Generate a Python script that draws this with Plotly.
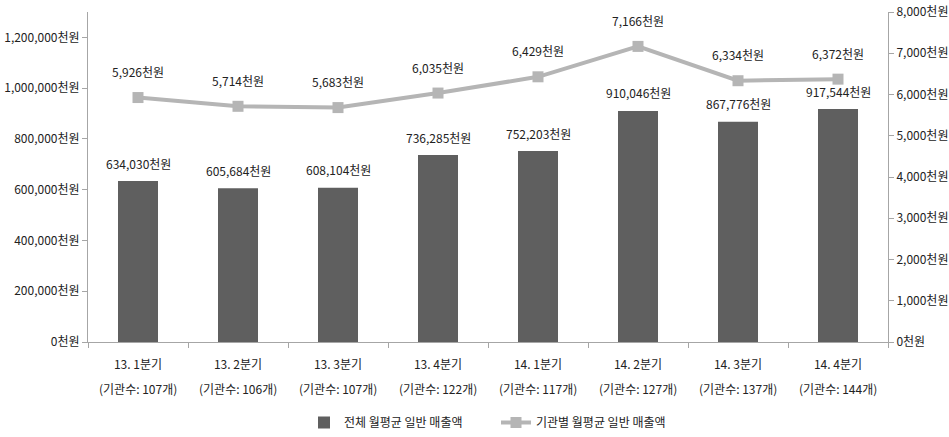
import plotly.graph_objects as go

quarters = ["13. 1분기", "13. 2분기", "13. 3분기", "13. 4분기",
            "14. 1분기", "14. 2분기", "14. 3분기", "14. 4분기"]
agency_counts = [107, 106, 107, 122, 117, 127, 137, 144]
total_sales = [634030, 605684, 608104, 736285, 752203, 910046, 867776, 917544]
per_agency_sales = [5926, 5714, 5683, 6035, 6429, 7166, 6334, 6372]

left_ticks = [0, 200000, 400000, 600000, 800000, 1000000, 1200000]
right_ticks = [0, 1000, 2000, 3000, 4000, 5000, 6000, 7000, 8000]

FONT = "Noto Sans CJK KR"
TXT = "#222222"
AXIS = "#a6a6a6"

fig = go.Figure()
fig.add_trace(go.Bar(
    x=quarters, y=total_sales, name="전체 월평균 일반 매출액",
    marker=dict(color="#5f5f5f", line=dict(width=0)),
))
fig.add_trace(go.Scatter(
    x=quarters, y=per_agency_sales, name="기관별 월평균 일반 매출액",
    yaxis="y2", mode="lines+markers",
    line=dict(color="#b5b5b5", width=4),
    marker=dict(symbol="square", size=11, color="#b5b5b5"),
))

annotations = []
for q, v in zip(quarters, total_sales):
    annotations.append(dict(x=q, y=v, xref="x", yref="y", text=f"{v:,}천원",
                            showarrow=False, yshift=18,
                            font=dict(family=FONT, size=12, color=TXT)))
for q, v in zip(quarters, per_agency_sales):
    annotations.append(dict(x=q, y=v, xref="x", yref="y2",
                            text=f"{v:,}천원", showarrow=False, yshift=26,
                            font=dict(family=FONT, size=12, color=TXT)))
for q, n in zip(quarters, agency_counts):
    annotations.append(dict(x=q, y=0, xref="x", yref="paper", text=f"(기관수: {n}개)",
                            showarrow=False, yanchor="middle", yshift=-46,
                            font=dict(family=FONT, size=12, color=TXT)))

fig.update_layout(
    width=949, height=437,
    margin=dict(l=88, r=61, t=12, b=95, autoexpand=False),
    paper_bgcolor="white", plot_bgcolor="white",
    font=dict(family=FONT, size=12, color=TXT),
    bargap=0.6,
    showlegend=True,
    legend=dict(orientation="h", x=0.27, xanchor="left",
                y=0, yref="container", yanchor="bottom",
                font=dict(family=FONT, size=12, color=TXT),
                entrywidth=147),
    xaxis=dict(type="category", showline=True, linecolor=AXIS, linewidth=1,
               ticks="outside", tickson="boundaries", ticklen=5, tickcolor=AXIS,
               showgrid=False, automargin=False, ticklabelstandoff=12,
               tickfont=dict(family=FONT, size=12, color=TXT)),
    yaxis=dict(range=[0, 1300000], tickvals=left_ticks,
               ticktext=[f"{t:,}천원" for t in left_ticks],
               showline=True, linecolor=AXIS, linewidth=1, ticks="outside",
               ticklen=5, tickcolor=AXIS, showgrid=False, zeroline=False,
               automargin=False,
               tickfont=dict(family=FONT, size=12, color=TXT)),
    yaxis2=dict(range=[0, 8000], tickvals=right_ticks,
                ticktext=[f"{t:,}천원" for t in right_ticks],
                overlaying="y", side="right",
                showline=True, linecolor=AXIS, linewidth=1, ticks="outside",
                ticklen=5, tickcolor=AXIS, showgrid=False, zeroline=False,
                automargin=False,
                tickfont=dict(family=FONT, size=12, color=TXT)),
    annotations=annotations,
)

fig.write_html("out.html")
